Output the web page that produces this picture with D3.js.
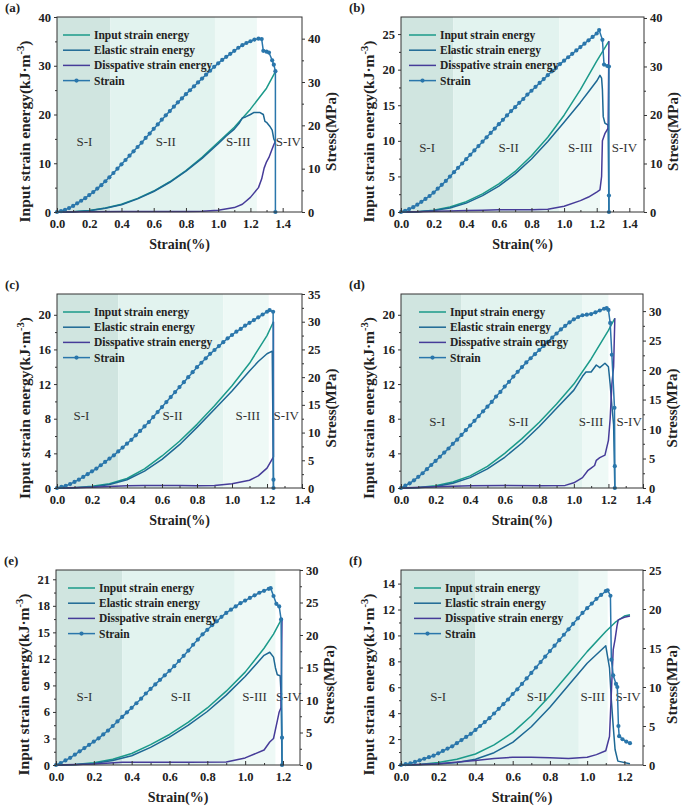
<!DOCTYPE html>
<html>
<head>
<meta charset="utf-8">
<script src="https://cdn.jsdelivr.net/npm/d3@7"></script>
<style>
  body { margin: 0; background: #fff; }
  svg { display: block; }
  text { font-family: "Liberation Serif", "Times New Roman", serif; }
</style>
</head>
<body>
<svg id="chart" width="682" height="806"></svg>
<script>
// strain positions of the stress markers (%)
const markerStrain = [0,0.025,0.05,0.075,0.1,0.125,0.15,0.175,0.2,0.225,0.25,0.275,0.3,0.325,0.35,0.375,0.4,0.425,0.45,0.475,
  0.5,0.525,0.55,0.575,0.6,0.625,0.65,0.675,0.7,0.725,0.75,0.775,0.8,0.825,0.85,0.875,0.9,0.925,0.95,0.975,
  1.0,1.025,1.05,1.075,1.1,1.125,1.15,1.175,1.2,1.225,1.25];

// stress (MPa) at markerStrain, then post-peak tail [strain, stress]
const stressA = [0,0.2,0.5,0.9,1.4,2.0,2.6,3.2,3.9,4.6,5.4,6.2,7.1,8.0,9.0,10.0,11.0,12.0,13.0,14.0,
  15.0,16.0,17.1,18.1,19.2,20.2,21.3,22.3,23.3,24.3,25.3,26.2,27.2,28.1,29.0,29.9,30.8,31.7,32.6,33.5,
  34.3,35.1,35.8,36.5,37.2,37.9,38.5,39.0,39.4,39.8,40.0];
const tailA = [[1.27,39.9],[1.28,37.2],[1.3,37.0],[1.315,36.8],[1.335,35.0],[1.345,34.0],[1.355,32.5],[1.355,0]];
const stressB = [0,0.25,0.6,1.0,1.5,2.1,2.7,3.3,4.0,4.8,5.6,6.4,7.3,8.2,9.1,10.0,10.9,11.8,12.7,13.6,
  14.5,15.4,16.3,17.2,18.1,19.0,19.9,20.8,21.6,22.5,23.3,24.2,25.0,25.8,26.6,27.4,28.2,29.0,29.7,30.5,
  31.2,31.9,32.6,33.3,34.0,34.7,35.4,36.1,36.8];
const tailB = [[1.215,37.5],[1.235,35.5],[1.245,30.4],[1.265,30.1],[1.275,30.0],[1.275,3.4],[1.275,0]];
const stressC = [0,0.2,0.4,0.7,1.1,1.5,2.0,2.5,3.0,3.5,4.1,4.7,5.3,5.9,6.6,7.3,8.0,8.7,9.5,10.3,
  11.1,11.9,12.8,13.7,14.6,15.5,16.4,17.3,18.2,19.1,20.0,20.9,21.8,22.6,23.4,24.2,24.9,25.6,26.3,27.0,
  27.6,28.2,28.7,29.3,29.8,30.3,30.8,31.3,31.8];
const tailC = [[1.215,32.1],[1.235,31.8],[1.237,1.5],[1.237,0]];
const stressD = [0,0.4,0.8,1.3,1.9,2.5,3.2,3.9,4.6,5.3,6.0,6.7,7.5,8.2,9.0,9.8,10.6,11.4,12.2,13.0,
  13.8,14.6,15.5,16.3,17.2,18.0,18.9,19.7,20.5,21.3,22.0,22.7,23.4,24.1,24.8,25.5,26.2,26.9,27.5,28.1,
  28.6,29.0,29.3,29.4,29.5,29.8,30.1,30.4];
const tailD = [[1.19,30.5],[1.2,30.2],[1.21,28.0],[1.22,22.6],[1.235,13.6],[1.237,3.7],[1.237,0]];
const stressE = [0,0.3,0.7,1.1,1.6,2.1,2.6,3.1,3.6,4.1,4.7,5.3,6.0,6.7,7.4,8.1,8.8,9.5,10.2,11.0,
  11.7,12.4,13.1,13.8,14.5,15.2,16.0,16.8,17.6,18.5,19.3,20.1,20.8,21.5,22.1,22.8,23.4,23.9,24.4,24.9,
  25.3,25.7,26.1,26.5,26.8,27.1];
const tailE = [[1.135,27.2],[1.15,26.0],[1.165,24.8],[1.18,24.4],[1.19,22.4],[1.195,4.2],[1.195,0]];
const stressF = [0,0.1,0.2,0.4,0.6,0.8,1.0,1.2,1.5,1.8,2.1,2.4,2.8,3.2,3.6,4.0,4.5,5.0,5.5,6.0,
  6.6,7.2,7.8,8.4,9.1,9.7,10.4,11.1,11.8,12.5,13.2,13.9,14.6,15.3,16.0,16.7,17.4,18.1,18.8,19.5,
  20.1,20.7,21.3,21.8,22.3];
const tailF = [[1.11,22.4],[1.125,21.7],[1.13,13.5],[1.14,11.5],[1.155,10.4],[1.162,10.0],[1.168,5.0],
  [1.172,3.7],[1.19,3.3],[1.21,3.0],[1.23,2.8]];

// energy curves [strain, kJ·m-3]
const inputA = [[0,0],[0.1,0.05],[0.2,0.3],[0.3,0.8],[0.4,1.6],[0.5,2.8],[0.6,4.3],[0.7,6.2],[0.8,8.5],[0.9,11.2],
  [1.0,14.3],[1.1,17.4],[1.2,21.1],[1.3,25.4],[1.355,28.8]];
const elasticA = [[0,0],[0.1,0.04],[0.2,0.25],[0.3,0.75],[0.4,1.5],[0.5,2.7],[0.6,4.2],[0.7,6.1],[0.8,8.4],[0.9,11.0],
  [1.0,14.0],[1.05,15.6],[1.1,17.0],[1.13,18.2],[1.15,19.3],[1.17,19.5],[1.2,20.0],[1.22,20.4],[1.26,20.4],[1.28,20.0],
  [1.29,18.6],[1.3,18.4],[1.32,17.6],[1.335,16.8],[1.345,15.0],[1.355,14.3]];
const dissA = [[0,0],[0.2,0.05],[0.4,0.1],[0.6,0.1],[0.8,0.1],[0.9,0.15],[1.0,0.35],[1.1,0.9],[1.15,1.6],[1.2,3.0],
  [1.25,5.0],[1.27,6.8],[1.285,9.0],[1.3,10.3],[1.315,11.2],[1.33,12.5],[1.345,13.8],[1.355,14.5]];

const inputB = [[0,0],[0.1,0.05],[0.2,0.25],[0.3,0.7],[0.4,1.45],[0.5,2.55],[0.6,3.95],[0.7,5.7],[0.8,7.9],[0.9,10.5],
  [1.0,13.6],[1.1,17.2],[1.2,21.2],[1.275,24.0]];
const elasticB = [[0,0],[0.1,0.03],[0.2,0.2],[0.3,0.55],[0.4,1.25],[0.5,2.3],[0.6,3.65],[0.7,5.35],[0.8,7.45],[0.9,9.9],
  [1.0,12.6],[1.1,15.4],[1.15,16.9],[1.2,18.4],[1.22,19.2],[1.23,18.8],[1.235,17.2],[1.24,13.4],[1.25,12.5],[1.27,12.2],[1.275,0]];
const dissB = [[0,0],[0.1,0.05],[0.2,0.1],[0.3,0.15],[0.4,0.2],[0.5,0.25],[0.6,0.3],[0.7,0.3],[0.8,0.3],[0.9,0.4],
  [1.0,0.8],[1.1,1.6],[1.15,2.1],[1.2,2.8],[1.22,3.1],[1.23,5.0],[1.235,10.0],[1.25,11.0],[1.27,11.8],[1.275,24.0]];

const inputC = [[0,0],[0.1,0.04],[0.2,0.2],[0.3,0.5],[0.4,1.1],[0.5,2.2],[0.6,3.7],[0.7,5.4],[0.8,7.35],[0.9,9.5],
  [1.0,11.8],[1.1,14.4],[1.2,17.6],[1.237,19.2]];
const elasticC = [[0,0],[0.1,0.02],[0.2,0.12],[0.3,0.4],[0.4,0.95],[0.5,1.95],[0.6,3.3],[0.7,5.0],[0.8,7.0],[0.9,9.1],
  [1.0,11.2],[1.1,13.5],[1.15,14.6],[1.2,15.5],[1.23,15.8],[1.237,0]];
const dissC = [[0,0],[0.2,0.1],[0.4,0.25],[0.5,0.3],[0.6,0.3],[0.7,0.3],[0.8,0.25],[0.9,0.3],[1.0,0.5],[1.1,0.9],
  [1.15,1.4],[1.2,2.3],[1.237,3.6],[1.237,19.2]];

const inputD = [[0,0],[0.1,0.05],[0.2,0.25],[0.3,0.7],[0.4,1.4],[0.5,2.5],[0.6,4.0],[0.7,5.7],[0.8,7.6],[0.9,9.7],
  [1.0,12.0],[1.1,14.9],[1.2,18.2],[1.237,19.6]];
const elasticD = [[0,0],[0.1,0.03],[0.2,0.18],[0.3,0.55],[0.4,1.2],[0.5,2.2],[0.6,3.55],[0.7,5.2],[0.8,7.1],[0.9,9.2],
  [1.0,11.3],[1.05,12.9],[1.07,13.4],[1.1,13.4],[1.13,14.2],[1.15,13.9],[1.18,14.4],[1.2,14.0],[1.21,12.0],[1.22,9.5],
  [1.23,7.3],[1.237,0]];
const dissD = [[0,0],[0.2,0.15],[0.4,0.25],[0.6,0.3],[0.8,0.25],[0.95,0.3],[1.0,0.6],[1.05,1.2],[1.08,2.0],[1.1,2.3],
  [1.12,2.6],[1.13,3.2],[1.15,3.5],[1.18,3.8],[1.2,5.5],[1.21,8.0],[1.22,12.0],[1.23,14.0],[1.237,19.6]];

const inputE = [[0,0],[0.1,0.05],[0.2,0.25],[0.3,0.65],[0.4,1.3],[0.5,2.3],[0.6,3.45],[0.7,4.85],[0.8,6.45],[0.9,8.35],
  [1.0,10.5],[1.1,13.2],[1.15,14.8],[1.195,16.6]];
const elasticE = [[0,0],[0.1,0.03],[0.2,0.18],[0.3,0.5],[0.4,1.05],[0.5,2.0],[0.6,3.15],[0.7,4.5],[0.8,6.05],[0.9,7.9],
  [1.0,10.0],[1.1,12.4],[1.13,12.75],[1.15,12.2],[1.16,11.0],[1.17,10.2],[1.185,10.1],[1.19,8.0],[1.195,0]];
const dissE = [[0,0],[0.2,0.1],[0.35,0.3],[0.5,0.3],[0.7,0.3],[0.9,0.35],[1.0,0.8],[1.1,1.7],[1.13,2.6],[1.15,3.0],
  [1.17,5.0],[1.18,6.0],[1.19,6.5],[1.195,16.6]];

const inputF = [[0,0],[0.1,0.04],[0.2,0.2],[0.3,0.45],[0.4,0.85],[0.5,1.55],[0.6,2.5],[0.7,3.8],[0.8,5.35],[0.9,7.05],
  [1.0,8.75],[1.1,10.3],[1.15,11.0],[1.2,11.5],[1.23,11.6]];
const elasticF = [[0,0],[0.1,0.02],[0.2,0.08],[0.3,0.2],[0.4,0.45],[0.5,0.95],[0.6,1.75],[0.7,2.95],[0.8,4.45],[0.9,6.15],
  [1.0,7.85],[1.1,9.2],[1.12,7.5],[1.13,5.0],[1.14,3.0],[1.15,1.2],[1.165,0.3],[1.23,0.1]];
const dissF = [[0,0],[0.2,0.1],[0.4,0.35],[0.5,0.5],[0.6,0.6],[0.7,0.6],[0.8,0.55],[0.9,0.5],[1.0,0.6],[1.05,0.8],
  [1.1,1.1],[1.12,2.2],[1.13,5.6],[1.14,8.9],[1.15,9.7],[1.16,10.7],[1.167,11.2],[1.2,11.4],[1.23,11.5]];

// stage boundaries (strain %): end of S-I, S-II, S-III
const stagesA = [0.33, 0.98, 1.24];
const stagesB = [0.32, 0.97, 1.22];
const stagesC = [0.35, 0.95, 1.21];
const stagesD = [0.35, 1.05, 1.2];
const stagesE = [0.35, 0.945, 1.16];
const stagesF = [0.4, 0.955, 1.11];
const stageNames = ["S-I", "S-II", "S-III", "S-IV"];
const seriesNames = ["Input strain energy", "Elastic strain energy", "Disspative strain energy", "Strain"];

const colors = { input: "#1b9a8a", elastic: "#1d6894", diss: "#463c99", stress: "#2a76ab" };
const stageFill = ["#d0e5e0", "#e2f3ef", "#eef9f6"];

const panels = [
  { tag: "(a)", box: [57, 302, 17, 212], xMax: 1.52, eMax: 40, sMax: 45, eTicks: [0,10,20,30,40], sTicks: [0,10,20,30,40],
    xTicks: [0,0.2,0.4,0.6,0.8,1.0,1.2,1.4], stress: stressA, tail: tailA, input: inputA, elastic: elasticA, diss: dissA,
    stages: stagesA, labelX: [0.17, 0.675, 1.125, 1.435], labelY: 14.5, legendDx: 6 },
  { tag: "(b)", box: [401, 644, 17, 212], xMax: 1.49, eMax: 27.4, sMax: 40.2, eTicks: [0,5,10,15,20,25], sTicks: [0,10,20,30,40],
    xTicks: [0,0.2,0.4,0.6,0.8,1.0,1.2,1.4], stress: stressB, tail: tailB, input: inputB, elastic: elasticB, diss: dissB,
    stages: stagesB, labelX: [0.16, 0.66, 1.1, 1.37], labelY: 9.2, legendDx: 8 },
  { tag: "(c)", box: [57, 302, 294, 488], xMax: 1.4, eMax: 22.4, sMax: 35, eTicks: [0,4,8,12,16,20], sTicks: [0,5,10,15,20,25,30,35],
    xTicks: [0,0.2,0.4,0.6,0.8,1.0,1.2,1.4], stress: stressC, tail: tailC, input: inputC, elastic: elasticC, diss: dissC,
    stages: stagesC, labelX: [0.14, 0.66, 1.09, 1.31], labelY: 8.4, legendDx: 6 },
  { tag: "(d)", box: [401, 643, 294, 488], xMax: 1.4, eMax: 22.4, sMax: 32.9, eTicks: [0,4,8,12,16,20], sTicks: [0,5,10,15,20,25,30],
    xTicks: [0,0.2,0.4,0.6,0.8,1.0,1.2,1.4], stress: stressD, tail: tailD, input: inputD, elastic: elasticD, diss: dissD,
    stages: stagesD, labelX: [0.21, 0.68, 1.1, 1.32], labelY: 7.7, legendDx: 18 },
  { tag: "(e)", box: [56, 300, 570, 765], xMax: 1.29, eMax: 22.05, sMax: 30, eTicks: [0,3,6,9,12,15,18,21], sTicks: [0,5,10,15,20,25,30],
    xTicks: [0,0.2,0.4,0.6,0.8,1.0,1.2], stress: stressE, tail: tailE, input: inputE, elastic: elasticE, diss: dissE,
    stages: stagesE, labelX: [0.15, 0.66, 1.05, 1.23], labelY: 7.8, legendDx: 12 },
  { tag: "(f)", box: [401, 643, 570, 765], xMax: 1.3, eMax: 15.05, sMax: 25, eTicks: [0,2,4,6,8,10,12,14], sTicks: [0,5,10,15,20,25],
    xTicks: [0,0.2,0.4,0.6,0.8,1.0,1.2], stress: stressF, tail: tailF, input: inputF, elastic: elasticF, diss: dissF,
    stages: stagesF, labelX: [0.2, 0.73, 1.03, 1.22], labelY: 5.3, legendDx: 13 }
];

const svg = d3.select("#chart");

function midTicks(t) {
  let out = [];
  for (let i = 0; i < t.length - 1; i++) out.push((t[i] + t[i + 1]) / 2);
  return out;
}

panels.forEach((p) => {
  const [x0, x1, y0, y1] = p.box;
  const x = d3.scaleLinear().domain([0, p.xMax]).range([x0, x1]);
  const yE = d3.scaleLinear().domain([0, p.eMax]).range([y1, y0]);
  const yS = d3.scaleLinear().domain([0, p.sMax]).range([y1, y0]);
  const g = svg.append("g");

  // stage shading
  const edges = [0].concat(p.stages);
  for (let i = 0; i < 3; i++) {
    g.append("rect")
      .attr("x", x(edges[i])).attr("y", y0)
      .attr("width", x(edges[i + 1]) - x(edges[i])).attr("height", y1 - y0)
      .attr("fill", stageFill[i]);
  }

  // stage labels
  stageNames.forEach((s, i) => {
    g.append("text")
      .attr("x", x(p.labelX[i])).attr("y", yE(p.labelY) + 5)
      .attr("text-anchor", "middle")
      .attr("font-size", 13).attr("fill", "#333")
      .text(s);
  });

  const lineE = d3.line().x((d) => x(d[0])).y((d) => yE(d[1]));
  const lineS = d3.line().x((d) => x(d[0])).y((d) => yS(d[1]));

  [[p.input, colors.input], [p.elastic, colors.elastic], [p.diss, colors.diss]].forEach(([data, c]) => {
    g.append("path").datum(data)
      .attr("d", lineE).attr("fill", "none")
      .attr("stroke", c).attr("stroke-width", 1.5)
      .attr("stroke-linejoin", "round");
  });

  const stressPts = p.stress.map((v, i) => [markerStrain[i], v]).concat(p.tail);
  g.append("path").datum(stressPts)
    .attr("d", lineS).attr("fill", "none")
    .attr("stroke", colors.stress).attr("stroke-width", 1.5);
  g.selectAll(".dot").data(stressPts).enter()
    .append("circle")
    .attr("cx", (d) => x(d[0])).attr("cy", (d) => yS(d[1]))
    .attr("r", 2.1).attr("fill", colors.stress);

  // frame
  g.append("rect")
    .attr("x", x0).attr("y", y0).attr("width", x1 - x0).attr("height", y1 - y0)
    .attr("fill", "none").attr("stroke", "#333").attr("stroke-width", 1);

  // axes
  const fmt = d3.format(".1f");
  g.append("g").attr("transform", `translate(0,${y1})`)
    .call(d3.axisBottom(x).tickValues(p.xTicks).tickFormat(fmt).tickSizeInner(-4).tickSizeOuter(0).tickPadding(7));
  g.append("g").attr("transform", `translate(0,${y1})`)
    .call(d3.axisBottom(x).tickValues(midTicks(p.xTicks)).tickFormat("").tickSizeInner(-2).tickSizeOuter(0));
  g.append("g").attr("transform", `translate(${x0},0)`)
    .call(d3.axisLeft(yE).tickValues(p.eTicks).tickSizeInner(3).tickSizeOuter(0).tickPadding(3));
  g.append("g").attr("transform", `translate(${x0},0)`)
    .call(d3.axisLeft(yE).tickValues(midTicks(p.eTicks)).tickFormat("").tickSizeInner(2).tickSizeOuter(0));
  g.append("g").attr("transform", `translate(${x1},0)`)
    .call(d3.axisRight(yS).tickValues(p.sTicks).tickSizeInner(3).tickSizeOuter(0).tickPadding(3));
  g.append("g").attr("transform", `translate(${x1},0)`)
    .call(d3.axisRight(yS).tickValues(midTicks(p.sTicks)).tickFormat("").tickSizeInner(2).tickSizeOuter(0));
  g.selectAll(".domain").remove();
  g.selectAll(".tick line").attr("stroke", "#333");
  g.selectAll(".tick text")
    .attr("font-family", "Liberation Serif, serif")
    .attr("font-size", 12.5).attr("font-weight", "bold").attr("fill", "#222");

  // titles
  g.append("text")
    .attr("x", (x0 + x1) / 2).attr("y", y1 + 37)
    .attr("text-anchor", "middle").attr("font-size", 14).attr("font-weight", "bold").attr("fill", "#222")
    .text("Strain(%)");
  const cy = (y0 + y1) / 2 + 17;
  const lt = g.append("text")
    .attr("transform", `translate(${x0 - 27},${cy}) rotate(-90)`)
    .attr("text-anchor", "middle").attr("font-size", 15.5).attr("font-weight", "bold").attr("fill", "#222");
  lt.append("tspan").text("Input strain energy(kJ·m");
  lt.append("tspan").attr("dy", -6).attr("font-size", 10.5).text("-3");
  lt.append("tspan").attr("dy", 6).text(")");
  g.append("text")
    .attr("transform", `translate(${x1 + 34},${cy}) rotate(-90)`)
    .attr("text-anchor", "middle").attr("font-size", 15).attr("font-weight", "bold").attr("fill", "#222")
    .text("Stress(MPa)");

  g.append("text")
    .attr("x", x0 - 52).attr("y", y0 - 5)
    .attr("font-size", 13).attr("font-weight", "bold").attr("fill", "#222")
    .text(p.tag);

  // legend
  const lx = x0 + p.legendDx;
  const legendColors = [colors.input, colors.elastic, colors.diss, colors.stress];
  seriesNames.forEach((name, i) => {
    const ly = y0 + 18 + i * 15.2;
    g.append("line")
      .attr("x1", lx).attr("x2", lx + 27).attr("y1", ly).attr("y2", ly)
      .attr("stroke", legendColors[i]).attr("stroke-width", 1.5);
    if (i === 3) {
      g.append("circle").attr("cx", lx + 13.5).attr("cy", ly).attr("r", 2.1).attr("fill", colors.stress);
    }
    g.append("text")
      .attr("x", lx + 31).attr("y", ly + 4)
      .attr("font-size", 11.5).attr("font-weight", "bold").attr("fill", "#222")
      .text(name);
  });
});
</script>
</body>
</html>
